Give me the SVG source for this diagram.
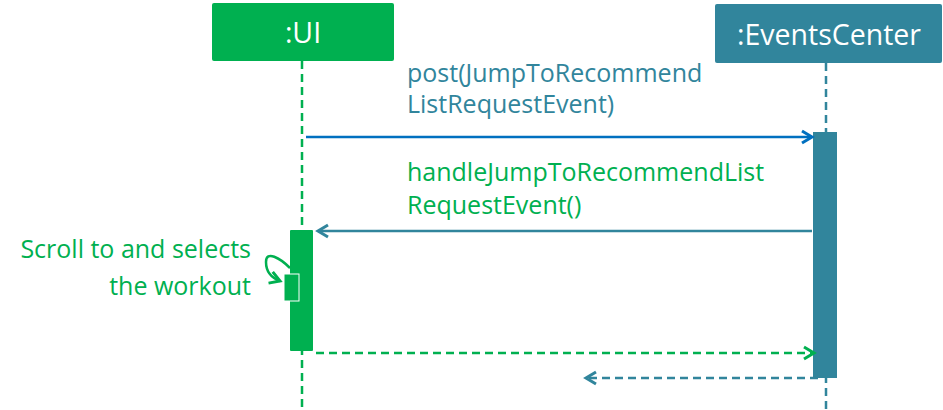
<svg xmlns="http://www.w3.org/2000/svg" width="943" height="410" viewBox="0 0 943 410">
<style>
text{font-family:"Open Sans","Liberation Sans",sans-serif;font-size:25px}
.g{fill:#00B050}.t{fill:#31859C}.w{fill:#fff;font-size:28.5px}
.ll{fill:none;stroke-width:2.5;stroke-dasharray:8,5}
</style>
<defs>
<marker id="ab" markerWidth="16" markerHeight="16" refX="13" refY="8" orient="auto" markerUnits="userSpaceOnUse"><path d="M3,2 L13,8 L3,14" fill="none" stroke="#0070C0" stroke-width="3"/></marker>
<marker id="at" markerWidth="16" markerHeight="16" refX="13" refY="8" orient="auto" markerUnits="userSpaceOnUse"><path d="M3,2 L13,8 L3,14" fill="none" stroke="#31859C" stroke-width="3"/></marker>
<marker id="ag" markerWidth="16" markerHeight="16" refX="13" refY="8" orient="auto" markerUnits="userSpaceOnUse"><path d="M3,2 L13,8 L3,14" fill="none" stroke="#00B050" stroke-width="3"/></marker>
</defs>
<g id="ui">
<line class="ll" x1="302" y1="61" x2="302" y2="410" stroke="#00B050"/>
<rect x="212" y="3" width="182" height="58" rx="2" fill="#00B050"/>
<text class="w" x="303" y="43" text-anchor="middle">:UI</text>
<rect x="290" y="230" width="23" height="121" rx="1" fill="#00B050"/>
<rect x="284" y="274" width="15" height="27" fill="#00B050" stroke="#fff" stroke-width="1"/>
</g>
<g id="eventscenter">
<line class="ll" x1="826" y1="63" x2="826" y2="410" stroke="#31859C"/>
<rect x="715" y="4" width="227" height="59" rx="2" fill="#31859C"/>
<text class="w" x="829" y="45" text-anchor="middle">:EventsCenter</text>
<rect x="813" y="132" width="24" height="246" fill="#31859C"/>
</g>
<g id="connectors">
<line x1="306" y1="137" x2="812" y2="137" stroke="#0070C0" stroke-width="2.5" marker-end="url(#ab)"/>
<line x1="812" y1="231" x2="318" y2="231" stroke="#31859C" stroke-width="2.5" marker-end="url(#at)"/>
<path d="M290,268 C280,258 266,250 266,262 C266,272 272,278 280,281" fill="none" stroke="#00B050" stroke-width="2.5" marker-end="url(#ag)"/>
<line x1="316" y1="353" x2="814" y2="353" stroke="#00B050" stroke-width="2.5" stroke-dasharray="8,5" marker-end="url(#ag)"/>
<line x1="818" y1="378" x2="586" y2="378" stroke="#31859C" stroke-width="2.5" stroke-dasharray="8,5" marker-end="url(#at)"/>
</g>
<g id="labels">
<text class="t" x="407" y="82">post(JumpToRecommend</text>
<text class="t" x="407" y="113">ListRequestEvent)</text>
<text class="g" x="407" y="181">handleJumpToRecommendList</text>
<text class="g" x="407" y="214">RequestEvent()</text>
<text class="g" x="251" y="258" text-anchor="end">Scroll to and selects</text>
<text class="g" x="251" y="295" text-anchor="end">the workout</text>
</g>
</svg>
